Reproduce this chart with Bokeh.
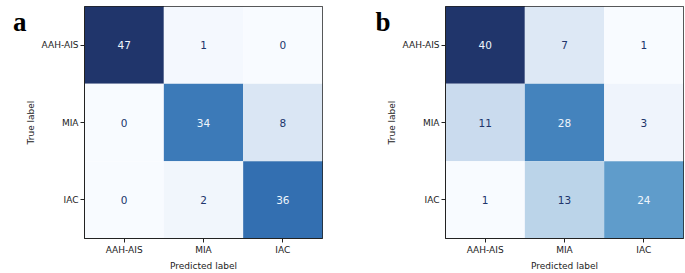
from bokeh.plotting import figure
from bokeh.layouts import row
from bokeh.models import (ColumnDataSource, LinearColorMapper, Range1d,
                          LinearAxis, FixedTicker)
from bokeh.core.properties import value
from bokeh.palettes import Blues256
from bokeh.transform import transform
from bokeh.embed import file_html
from bokeh.resources import INLINE

classes = ["AAH-AIS", "MIA", "IAC"]
cm_a = [[47, 1, 0], [0, 34, 8], [0, 2, 36]]
cm_b = [[40, 7, 1], [11, 28, 3], [1, 13, 24]]
panel_labels = ["a", "b"]

FONT = "DejaVu Sans"


def soften(hexc):
    h = hexc.lstrip("#")
    r, g, b = int(h[0:2], 16), int(h[2:4], 16), int(h[4:6], 16)
    r = round(r + 25 * (1 - r / 255))
    g = round(g + 6 * (1 - g / 255))
    return "#%02x%02x%02x" % (r, g, b)


palette = list(Blues256)
if palette[0].lower() != "#f7fbff":
    palette = palette[::-1]
palette = [soften(c) for c in palette]
LIGHT_TXT = "#eef5fb"
DARK_TXT = soften("#08306b")


def make_panel(cm, tag, width, left, right, tag_standoff):
    vals = [v for r in cm for v in r]
    lo, hi = min(vals), max(vals)
    thr = (lo + hi) / 2.0
    n = len(classes)
    xs, ys, vs, tc = [], [], [], []
    for i in range(n):
        for j in range(n):
            xs.append(j)
            ys.append(i)
            vs.append(cm[i][j])
            tc.append(LIGHT_TXT if cm[i][j] > thr else DARK_TXT)
    src = ColumnDataSource(dict(x=xs, y=ys, v=vs, txt=[str(v) for v in vs], tc=tc))
    mapper = LinearColorMapper(palette=palette, low=lo, high=hi)
    p = figure(x_range=Range1d(-0.5, n - 0.5), y_range=Range1d(n - 0.5, -0.5),
               width=width, height=273,
               output_backend="svg", toolbar_location=None,
               min_border_left=left, min_border_right=right,
               min_border_top=6, min_border_bottom=30)
    p.rect("x", "y", 1, 1, source=src, fill_color=transform("v", mapper),
           line_color=None)
    p.text("x", "y", text="txt", source=src, text_color="tc",
           text_align="center", text_baseline="middle",
           text_font=value(FONT), text_font_size="10.5px")
    p.grid.visible = False
    p.outline_line_color = "#222222"
    p.outline_line_width = 1
    p.background_fill_color = "white"
    p.border_fill_color = "white"
    overrides = {k: c for k, c in enumerate(classes)}
    for ax in (p.xaxis[0], p.yaxis[0]):
        ax.ticker = FixedTicker(ticks=list(range(n)))
        ax.major_label_overrides = overrides
        ax.axis_line_color = "#222222"
        ax.major_tick_line_color = "#222222"
        ax.minor_tick_line_color = None
        ax.major_tick_out = 4
        ax.major_tick_in = 0
        ax.major_label_text_font = FONT
        ax.major_label_text_font_size = "9px"
        ax.major_label_text_color = "#222222"
        ax.major_label_standoff = 2
        ax.axis_label_text_font = FONT
        ax.axis_label_text_font_size = "9px"
        ax.axis_label_text_font_style = "normal"
        ax.axis_label_text_color = "#222222"
        ax.axis_label_standoff = 3
    p.xaxis.axis_label = "Predicted label"
    p.yaxis.axis_label = "True label"

    # panel letter, drawn as the single tick label of an outer left axis
    p.extra_y_ranges = {"tag": Range1d(0, 237)}
    tag_pos = 221
    tag_axis = LinearAxis(y_range_name="tag", ticker=FixedTicker(ticks=[tag_pos]),
                          major_label_overrides={tag_pos: tag})
    tag_axis.axis_line_color = None
    tag_axis.major_tick_line_color = None
    tag_axis.minor_tick_line_color = None
    tag_axis.major_tick_out = 0
    tag_axis.major_tick_in = 0
    try:
        tag_axis.major_label_standoff = tag_standoff
    except Exception:
        tag_axis.major_label_standoff = 1
    tag_axis.major_label_text_font = "Liberation Serif"
    tag_axis.major_label_text_font_style = "bold"
    tag_axis.major_label_text_font_size = "27px"
    tag_axis.major_label_text_color = "black"
    p.add_layout(tag_axis, "left")
    return p


pa = make_panel(cm_a, panel_labels[0], 342, 84, 20, -4)
pb = make_panel(cm_b, panel_labels[1], 343, 103, 2, -7)
layout = row(pa, pb)
open("out.html", "w").write(file_html(layout, INLINE))
